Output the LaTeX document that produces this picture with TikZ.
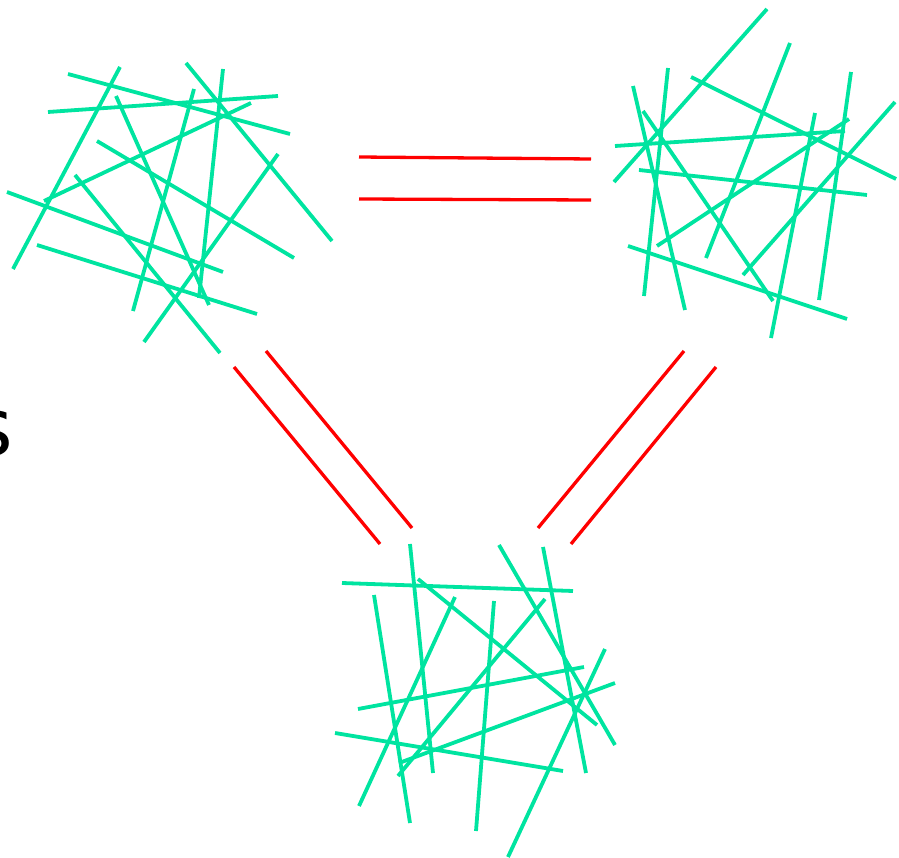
\documentclass[tikz,border=0pt]{standalone}
\usepackage{fontspec}
\setmainfont{DejaVu Sans}
\definecolor{stick}{RGB}{0,228,160}
\definecolor{link}{RGB}{255,0,0}
\tikzset{
  stickline/.style={draw=stick, line width=3.8pt},
  linkline/.style={draw=link, line width=3.3pt},
}
\begin{document}
\begin{tikzpicture}[x=1pt,y=-1pt]
\useasboundingbox (0,0) rectangle (899,858);
\clip (0,0) rectangle (899,858);
% partial text at left edge
\node[anchor=base east, inner sep=0pt, font=\fontsize{80}{90}\selectfont] (txt) at (13,455) {s};
% top-left cluster
\foreach \a/\b/\c/\d in {120/67/13/269, 68/74/290/134, 48/112/278/96, 186/63/332/241,
  223/69/199/298, 116/96/209/305, 194/89/133/311, 251/103/44/201, 97/141/294/258,
  7/192/223/272, 75/175/220/353, 278/154/144/342, 37/245/257/314}
  \draw[stickline] (\a,\b) -- (\c,\d);
% top-right cluster
\foreach \a/\b/\c/\d in {767/9/614/182, 790/43/706/258, 668/68/644/296, 633/86/685/310,
  691/77/896/179, 643/111/773/301, 615/146/845/131, 849/119/657/246, 851/72/819/300,
  895/102/743/275, 639/170/867/195, 815/113/771/338, 628/246/847/319}
  \draw[stickline] (\a,\b) -- (\c,\d);
% bottom cluster
\foreach \a/\b/\c/\d in {410/544/433/773, 499/545/615/745, 543/547/586/773, 342/583/573/591,
  418/579/597/725, 374/595/410/823, 455/597/359/806, 494/601/476/831, 545/599/398/776,
  584/667/358/709, 605/649/508/857, 615/683/399/763, 335/733/563/771}
  \draw[stickline] (\a,\b) -- (\c,\d);
% red double links
\coordinate (t1a) at (359,157); \coordinate (t1b) at (591,159);
\coordinate (t2a) at (359,199); \coordinate (t2b) at (591,200);
\coordinate (l1a) at (266,351); \coordinate (l1b) at (412,528);
\coordinate (l2a) at (234,367); \coordinate (l2b) at (380,544);
\coordinate (r1a) at (684,351); \coordinate (r1b) at (538,528);
\coordinate (r2a) at (716,367); \coordinate (r2b) at (571,544);
\draw[linkline] (t1a) -- (t1b);
\draw[linkline] (t2a) -- (t2b);
\draw[linkline] (l1a) -- (l1b);
\draw[linkline] (l2a) -- (l2b);
\draw[linkline] (r1a) -- (r1b);
\draw[linkline] (r2a) -- (r2b);
\end{tikzpicture}
\end{document}
